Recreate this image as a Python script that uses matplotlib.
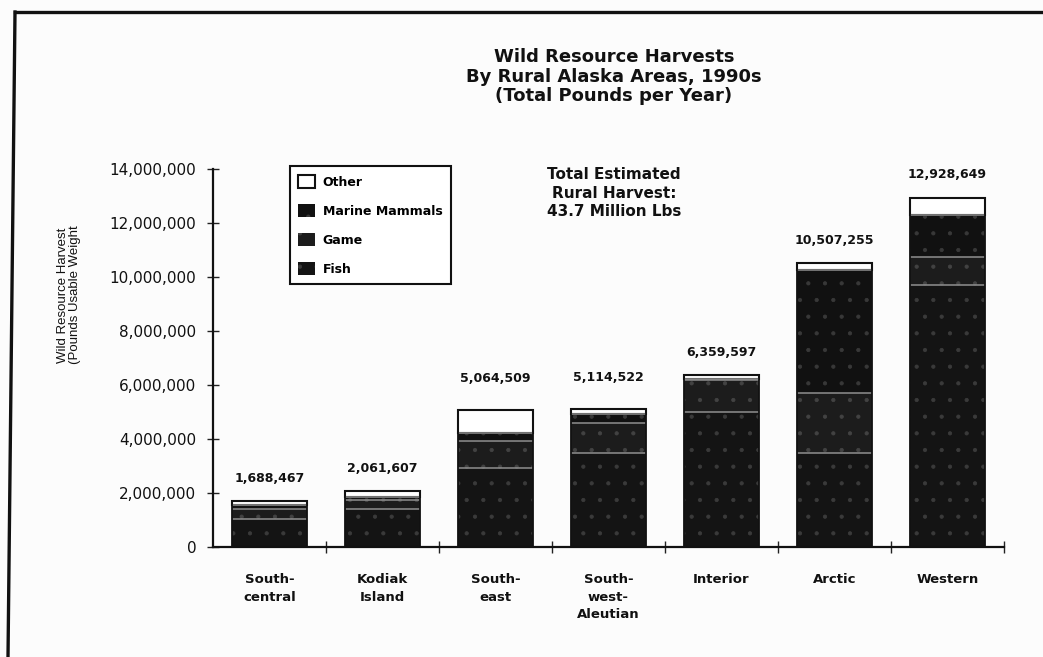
import matplotlib
matplotlib.use("Agg")
import matplotlib.pyplot as plt
from matplotlib.lines import Line2D
import numpy as np

plt.rcParams['font.family'] = ['DejaVu Sans']
plt.rcParams['hatch.linewidth'] = 0.6

# ---- data (pounds usable weight per year) ----
regions = ["South-\ncentral", "Kodiak\nIsland", "South-\neast",
           "South-\nwest-\nAleutian", "Interior", "Arctic", "Western"]
fish = [1.05e6, 1.40e6, 2.93e6, 3.48e6, 5.00e6, 3.48e6, 9.70e6]
game = [0.35e6, 0.35e6, 1.00e6, 1.12e6, 1.20e6, 2.22e6, 1.04e6]
marine_mammals = [0.15e6, 0.12e6, 0.29e6, 0.33e6, 0.02e6, 4.56e6, 1.56e6]
other = [0.138e6, 0.19e6, 0.845e6, 0.185e6, 0.14e6, 0.247e6, 0.63e6]
totals = [1688467, 2061607, 5064509, 5114522, 6359597, 10507255, 12928649]
yticks = [0, 2000000, 4000000, 6000000, 8000000, 10000000, 12000000, 14000000]

W, H = 1043, 657
fig = plt.figure(figsize=(W / 100, H / 100), dpi=100)
fig.patch.set_facecolor('#fcfcfc')

ax = fig.add_axes([213 / W, 1 - 547 / H, (1004 - 213) / W, (547 - 169) / H])
ax.set_facecolor('none')

x = np.arange(len(regions))
bw = 0.67
f = np.array(fish)
g = np.array(game)
m = np.array(marine_mammals)
o = np.array(other)

b_fish = ax.bar(x, f, bw, color='#141414', hatch='.', edgecolor='#3a3a3a', linewidth=0, label='Fish')
b_game = ax.bar(x, g, bw, bottom=f, color='#1c1c1c', hatch='.', edgecolor='#424242', linewidth=0, label='Game')
b_mm = ax.bar(x, m, bw, bottom=f + g, color='#111111', hatch='.', edgecolor='#383838', linewidth=0, label='Marine Mammals')
b_oth = ax.bar(x, o, bw, bottom=f + g + m, color='white', edgecolor='#111111', linewidth=1.5, label='Other')

# segment separators (faint light lines as in the scan)
for lvl in (f, f + g, f + g + m):
    ax.hlines(lvl, x - bw / 2, x + bw / 2, colors='#8f8f8f', linewidth=1.1, zorder=3)

# overall outline
ax.bar(x, totals, bw, fill=False, edgecolor='#111111', linewidth=1.3, zorder=4)

# total labels above bars
label_pad = [12, 12, 18, 18, 12, 12, 12]
for xi, tot, pd in zip(x, totals, label_pad):
    ax.annotate(f"{tot:,}", xy=(xi, tot), xytext=(0, pd), textcoords='offset points',
                ha='center', va='bottom', fontsize=9, fontweight='bold', color='#111111')

ax.set_ylim(0, 14000000)
ax.set_xlim(-0.5, 6.5)
ax.set_yticks(yticks)
ax.set_yticklabels([f"{v:,}" for v in yticks], fontsize=11, color='#111111')
ax.tick_params(axis='y', direction='inout', length=8, width=1.0, pad=8, color='#222222')

ax.set_xticks(np.arange(0.5, 7, 1.0))
ax.set_xticklabels([])
ax.tick_params(axis='x', which='major', direction='inout', length=8, width=1.0, color='#222222')
ax.set_xticks(x, regions, minor=True)
ax.tick_params(axis='x', which='minor', length=0, pad=19, labelsize=9.5)
for t in ax.get_xticklabels(minor=True):
    t.set_fontweight('bold')
    t.set_color('#111111')
    t.set_linespacing(1.45)

for s in ('top', 'right'):
    ax.spines[s].set_visible(False)
for s in ('left', 'bottom'):
    ax.spines[s].set_linewidth(1.6)
    ax.spines[s].set_color('#111111')

leg = ax.legend(handles=[b_oth, b_mm, b_game, b_fish],
                labels=['Other', 'Marine Mammals', 'Game', 'Fish'],
                loc='upper left', bbox_to_anchor=(0.097, 1.008),
                frameon=True, fancybox=False, framealpha=1,
                prop={'size': 9, 'weight': 'bold'},
                handlelength=1.35, handleheight=1.3,
                labelspacing=1.2, handletextpad=0.6, borderpad=0.7,
                borderaxespad=0)
leg.get_frame().set_edgecolor('#111111')
leg.get_frame().set_linewidth(1.5)

# title block
title_lines = ["Wild Resource Harvests", "By Rural Alaska Areas, 1990s", "(Total Pounds per Year)"]
for ty, txt in zip((57, 77, 96), title_lines):
    fig.text(614 / W, 1 - ty / H, txt, ha='center', va='center',
             fontsize=13, fontweight='bold', color='#111111')

note_lines = ["Total Estimated", "Rural Harvest:", "43.7 Million Lbs"]
for ty, txt in zip((175, 193, 212), note_lines):
    fig.text(614 / W, 1 - ty / H, txt, ha='center', va='center',
             fontsize=11, fontweight='bold', color='#111111')

# y axis title
fig.text(69 / W, 1 - 295 / H, "Wild Resource Harvest\n(Pounds Usable Weight",
         rotation=90, ha='center', va='center', fontsize=9.5,
         family=['Liberation Sans', 'DejaVu Sans'],
         linespacing=1.0, color='#111111')

# scanned page frame
fig.add_artist(Line2D([15 / W, 1.0], [1 - 12 / H, 1 - 12 / H], transform=fig.transFigure,
                      color='#111111', linewidth=2.4))
fig.add_artist(Line2D([15 / W, 8 / W], [1 - 12 / H, 0.0], transform=fig.transFigure,
                      color='#111111', linewidth=2.4))

fig.savefig('out.png', dpi=100, facecolor=fig.get_facecolor())
